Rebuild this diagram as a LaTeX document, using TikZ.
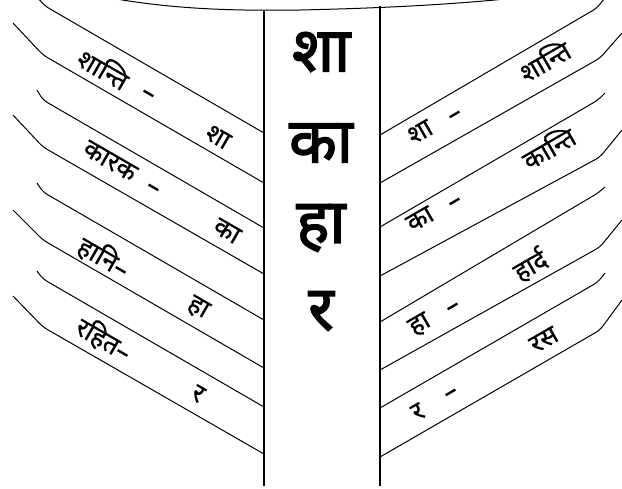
\documentclass[tikz,border=0pt]{standalone}
\usepackage{fontspec}
\usepackage{tikz}
\newfontfamily\deva[Script=Devanagari,FakeBold=0.8]{Noto Sans}
\newfontfamily\devabold[Script=Devanagari,FakeBold=2.5]{Noto Sans}

\tikzset{
  strand/.style={line width=1pt,rounded corners=5pt},
  spine/.style={line width=1.3pt},
  bigword/.style={font=\devabold\fontsize{62}{66}\selectfont},
  leftword/.style={font=\deva\fontsize{26}{28}\selectfont,rotate=-30},
  rightword/.style={font=\deva\fontsize{26}{28}\selectfont,rotate=30}
}

\begin{document}
\begin{tikzpicture}[x=1pt,y=-1pt]
    \useasboundingbox (0,0) rectangle (622,488);

    % Top rim
    \draw[line width=1pt] (105,-3) .. controls (170,9) and (230,11) .. (300,10) .. controls (390,8) and (460,4) .. (525,-3);

    % Central column
    \draw[spine] (264,11) -- (264,486);
    \draw[spine] (380,6) -- (380,486);

    % Left strands
    \draw[strand] (37,-3) -- (45,6) -- (264,133);
    \draw[strand] (13,23) -- (43,55) -- (264,183);
    \draw[strand] (37,90) -- (43,100) -- (264,228);
    \draw[strand] (13,115) -- (43,147) -- (264,274);
    \draw[strand] (37,183) -- (43,192) -- (264,320);
    \draw[strand] (13,210) -- (43,240) -- (264,368);
    \draw[strand] (37,271) -- (43,279) -- (264,407);
    \draw[strand] (13,296) -- (43,327) -- (264,454);

    % Right strands
    \draw[strand] (604,-1) -- (597,8) -- (380,135);
    \draw[strand] (622,33) -- (600,58) -- (380,183);
    \draw[strand] (605,93) -- (598,100) -- (380,227);
    \draw[strand] (622,130) -- (600,157) -- (380,276);
    \draw[strand] (605,187) -- (598,193) -- (380,322);
    \draw[strand] (622,220) -- (600,247) -- (380,370);
    \draw[strand] (605,273) -- (598,282) -- (380,408);
    \draw[strand] (622,300) -- (600,330) -- (380,457);

    % Syllables in the column
    \node[bigword] (sha) at (321,52) {शा};
    \node[bigword] (ka) at (321,143) {का};
    \node[bigword] (ha) at (321,228) {हा};
    \node[bigword] (ra) at (321,311) {र};

    % Left words
    \node[leftword] (shanti) at (104,68) {शान्ति};
    \node[leftword] (dashA) at (147,96) {–};
    \node[leftword] (shaL) at (218,137) {शा};
    \node[leftword] (karak) at (110,161) {कारक};
    \node[leftword] (dashB) at (152,190) {–};
    \node[leftword] (kaL) at (227,231) {का};
    \node[leftword] (hani) at (104,257) {हानि–};
    \node[leftword] (haL) at (198,308) {हा};
    \node[leftword] (rahit) at (104,339) {रहित–};
    \node[leftword] (raL) at (198,394) {र};

    % Right words
    \node[rightword] (shaR) at (420,132) {शा};
    \node[rightword] (dashC) at (456,117) {–};
    \node[rightword] (shantiR) at (544,60) {शान्ति};
    \node[rightword] (kaR) at (420,219) {का};
    \node[rightword] (dashD) at (456,204) {–};
    \node[rightword] (kanti) at (548,147) {कान्ति};
    \node[rightword] (haR) at (420,325) {हा};
    \node[rightword] (dashE) at (454,309) {–};
    \node[rightword] (hard) at (530,265) {हार्द};
    \node[rightword] (raR) at (418,412) {र};
    \node[rightword] (dashF) at (452,395) {–};
    \node[rightword] (ras) at (544,340) {रस};
\end{tikzpicture}
\end{document}
